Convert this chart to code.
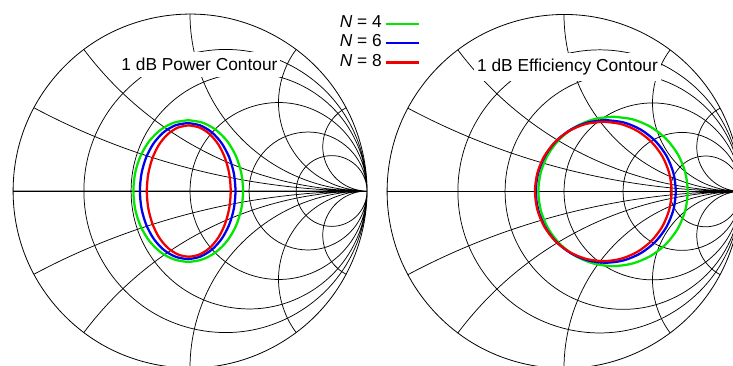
\documentclass[border=0pt]{standalone}
\usepackage{fontspec}
\setmainfont{Liberation Sans}
\usepackage{pgfplots}
\pgfplotsset{compat=1.18}
\usepgfplotslibrary{smithchart}

\definecolor{cgreen}{RGB}{0,230,0}
\definecolor{cblue}{RGB}{0,0,240}
\definecolor{cred}{RGB}{240,0,0}

\pgfplotsset{
  mysmith/.style={
    width=265.5pt, height=265.5pt, scale only axis,
    anchor=center,
    xtick={0.25,0.5,1,2,4},
    ytick={-4,-2,-1,-0.5,-0.25,0,0.25,0.5,1,2,4},
    xticklabels={}, yticklabels={},
    major tick length=0pt,
    grid=major,
    major grid style={black, line width=0.55pt},
    axis line style={black, line width=0.6pt},
    every axis plot/.append style={line width=1.7pt, smooth},
  },
}

\begin{document}
\begin{tikzpicture}
\useasboundingbox (0,0) rectangle (549.75pt,273.75pt);
\clip (0,0) rectangle (549.75pt,273.75pt);

% Left chart: 1 dB power contour
\begin{smithchart}[mysmith, at={(142.5pt,130.5pt)},
  legend style={draw=none, fill=none, at={(1.162,1.007)}, anchor=north east,
    font=\fontsize{13pt}{14.4pt}\selectfont, cells={anchor=east},
    nodes={inner ysep=0pt, text height=10pt, text depth=4.4pt}},
  legend plot pos=right,
  legend image code/.code={\draw[#1, line width=1.7pt] (0pt,0pt) -- (25pt,0pt);},
]
\addplot[cgreen, is smithchart cs] coordinates {
(-0.01,0.40) (-0.0902,0.3864) (-0.165,0.3464) (-0.2292,0.2828) (-0.2785,0.2) (-0.3094,0.1035)
(-0.32,0) (-0.3094,-0.1035) (-0.2785,-0.2) (-0.2292,-0.2828) (-0.165,-0.3464) (-0.0902,-0.3864)
(-0.01,-0.40) (0.0702,-0.3864) (0.145,-0.3464) (0.2092,-0.2828) (0.2585,-0.2) (0.2894,-0.1035)
(0.300,0) (0.2894,0.1035) (0.2585,0.2) (0.2092,0.2828) (0.145,0.3464) (0.0702,0.3864) (-0.01,0.40)
};
\addlegendentry{\textit{N} = 4}
\addplot[cblue, is smithchart cs] coordinates {
(-0.013,0.384) (-0.0829,0.3709) (-0.148,0.3326) (-0.2039,0.2715) (-0.2468,0.192) (-0.2738,0.0994)
(-0.283,0) (-0.2738,-0.0994) (-0.2468,-0.192) (-0.2039,-0.2715) (-0.148,-0.3326) (-0.0829,-0.3709)
(-0.013,-0.384) (0.0569,-0.3709) (0.122,-0.3326) (0.1779,-0.2715) (0.2208,-0.192) (0.2478,-0.0994)
(0.257,0) (0.2478,0.0994) (0.2208,0.192) (0.1779,0.2715) (0.122,0.3326) (0.0569,0.3709) (-0.013,0.384)
};
\addlegendentry{\textit{N} = 6}
\addplot[cred, is smithchart cs] coordinates {
(-0.007,0.371) (-0.0683,0.3584) (-0.1255,0.3213) (-0.1746,0.2623) (-0.2122,0.1855) (-0.2359,0.096)
(-0.244,0) (-0.2359,-0.096) (-0.2122,-0.1855) (-0.1746,-0.2623) (-0.1255,-0.3213) (-0.0683,-0.3584)
(-0.007,-0.371) (0.0543,-0.3584) (0.1115,-0.3213) (0.1606,-0.2623) (0.1982,-0.1855) (0.2219,-0.096)
(0.23,0) (0.2219,0.096) (0.1982,0.1855) (0.1606,0.2623) (0.1115,0.3213) (0.0543,0.3584) (-0.007,0.371)
};
\addlegendentry{\textit{N} = 8}
\end{smithchart}

% Right chart: 1 dB efficiency contour
\begin{smithchart}[mysmith, at={(423pt,130.2pt)}]
\addplot[cgreen, is smithchart cs] coordinates {
(0.277,0.422) (0.1678,0.4076) (0.066,0.3655) (-0.0214,0.2984) (-0.0885,0.211) (-0.1306,0.1092)
(-0.145,0) (-0.1306,-0.1092) (-0.0885,-0.211) (-0.0214,-0.2984) (0.066,-0.3655) (0.1678,-0.4076)
(0.277,-0.422) (0.3862,-0.4076) (0.488,-0.3655) (0.5754,-0.2984) (0.6425,-0.211) (0.6846,-0.1092)
(0.699,0) (0.6846,0.1092) (0.6425,0.211) (0.5754,0.2984) (0.488,0.3655) (0.3862,0.4076) (0.277,0.422)
};
\addplot[cblue, is smithchart cs] coordinates {
(0.236,0.403) (0.1336,0.3893) (0.0382,0.349) (-0.0437,0.285) (-0.1065,0.2015) (-0.146,0.1043)
(-0.1595,0) (-0.146,-0.1043) (-0.1065,-0.2015) (-0.0437,-0.285) (0.0382,-0.349) (0.1336,-0.3893)
(0.236,-0.403) (0.3384,-0.3893) (0.4338,-0.349) (0.5157,-0.285) (0.5785,-0.2015) (0.618,-0.1043)
(0.6315,0) (0.618,0.1043) (0.5785,0.2015) (0.5157,0.285) (0.4338,0.349) (0.3384,0.3893) (0.236,0.403)
};
\addplot[cred, is smithchart cs] coordinates {
(0.222,0.394) (0.1221,0.3806) (0.029,0.3412) (-0.0509,0.2786) (-0.1123,0.197) (-0.1508,0.102)
(-0.164,0) (-0.1508,-0.102) (-0.1123,-0.197) (-0.0509,-0.2786) (0.029,-0.3412) (0.1221,-0.3806)
(0.222,-0.394) (0.3219,-0.3806) (0.415,-0.3412) (0.4949,-0.2786) (0.5563,-0.197) (0.5948,-0.102)
(0.608,0) (0.5948,0.102) (0.5563,0.197) (0.4949,0.2786) (0.415,0.3412) (0.3219,0.3806) (0.222,0.394)
};
\end{smithchart}

\node[fill=white, inner xsep=2pt, inner ysep=4.5pt, font=\fontsize{13pt}{15.6pt}\selectfont] at (149.6pt,225.4pt) {1 dB Power Contour};
\node[fill=white, inner xsep=2pt, inner ysep=4.5pt, font=\fontsize{13pt}{15.6pt}\selectfont] at (425.6pt,223.7pt) {1 dB Efficiency Contour};
\end{tikzpicture}
\end{document}
